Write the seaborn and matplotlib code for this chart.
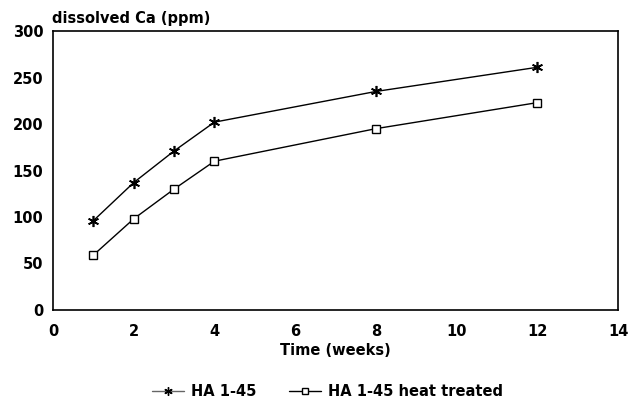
import matplotlib
matplotlib.use("Agg")
import matplotlib.pyplot as plt
import seaborn as sns
import pandas as pd
from matplotlib.lines import Line2D

weeks = [1, 2, 3, 4, 8, 12]
ha_145 = [96, 137, 171, 202, 235, 261]
ha_145_heat = [59, 98, 130, 160, 195, 223]
series_names = ["HA 1-45", "HA 1-45 heat treated"]
xticks = [0, 2, 4, 6, 8, 10, 12, 14]
yticks = [0, 50, 100, 150, 200, 250, 300]

sns.set_theme(style="white")
plt.rcParams['font.family'] = ['DejaVu Sans']
plt.rcParams['font.weight'] = 'bold'
plt.rcParams['text.color'] = 'black'
plt.rcParams['xtick.color'] = 'black'
plt.rcParams['ytick.color'] = 'black'
plt.rcParams['axes.labelcolor'] = 'black'

FS = 10.5
fig = plt.figure(figsize=(6.36, 4.03), dpi=100)
ax = fig.add_axes([0.0833, 0.2308, 0.8884, 0.6922])

sns.lineplot(x=weeks, y=ha_145, ax=ax, color="black", linewidth=1.0,
             marker=(6, 2, 0), markersize=8, markeredgewidth=1.2,
             markeredgecolor="black")
sns.lineplot(x=weeks, y=ha_145_heat, ax=ax, color="black", linewidth=1.0,
             marker="s", markersize=6, markerfacecolor="white",
             markeredgecolor="black", markeredgewidth=1.0)

ax.set_xlim(0, 14)
ax.set_ylim(0, 300)
ax.set_xticks(xticks)
ax.set_yticks(yticks)
ax.set_xticklabels([str(t) for t in xticks], fontsize=FS, fontweight='bold')
ax.set_yticklabels([str(t) for t in yticks], fontsize=FS, fontweight='bold')
ax.tick_params(axis='x', direction='in', length=5, width=1, color='black', pad=10)
ax.tick_params(axis='y', length=0, pad=7)
for s in ax.spines.values():
    s.set_color('black')
    s.set_linewidth(1.2)

ax.set_xlabel("Time (weeks)", fontsize=FS, fontweight='bold', labelpad=3)
ax.set_ylabel("")
fig.text(0.082, 0.955, "dissolved Ca (ppm)", fontsize=FS, fontweight='bold',
         ha='left', va='center')

handles = [
    Line2D([], [], color='#666666', linewidth=1.0, marker=(6, 2, 0), markersize=6,
           markeredgecolor='black'),
    Line2D([], [], color='black', linewidth=1.0, marker='s', markersize=5,
           markerfacecolor='white', markeredgecolor='black'),
]
fig.legend(handles, series_names, loc='center', bbox_to_anchor=(0.515, 0.028),
           ncol=2, frameon=False, fontsize=FS, handlelength=2.2,
           columnspacing=2.2, handletextpad=0.5)

fig.savefig("out.png", dpi=100)
